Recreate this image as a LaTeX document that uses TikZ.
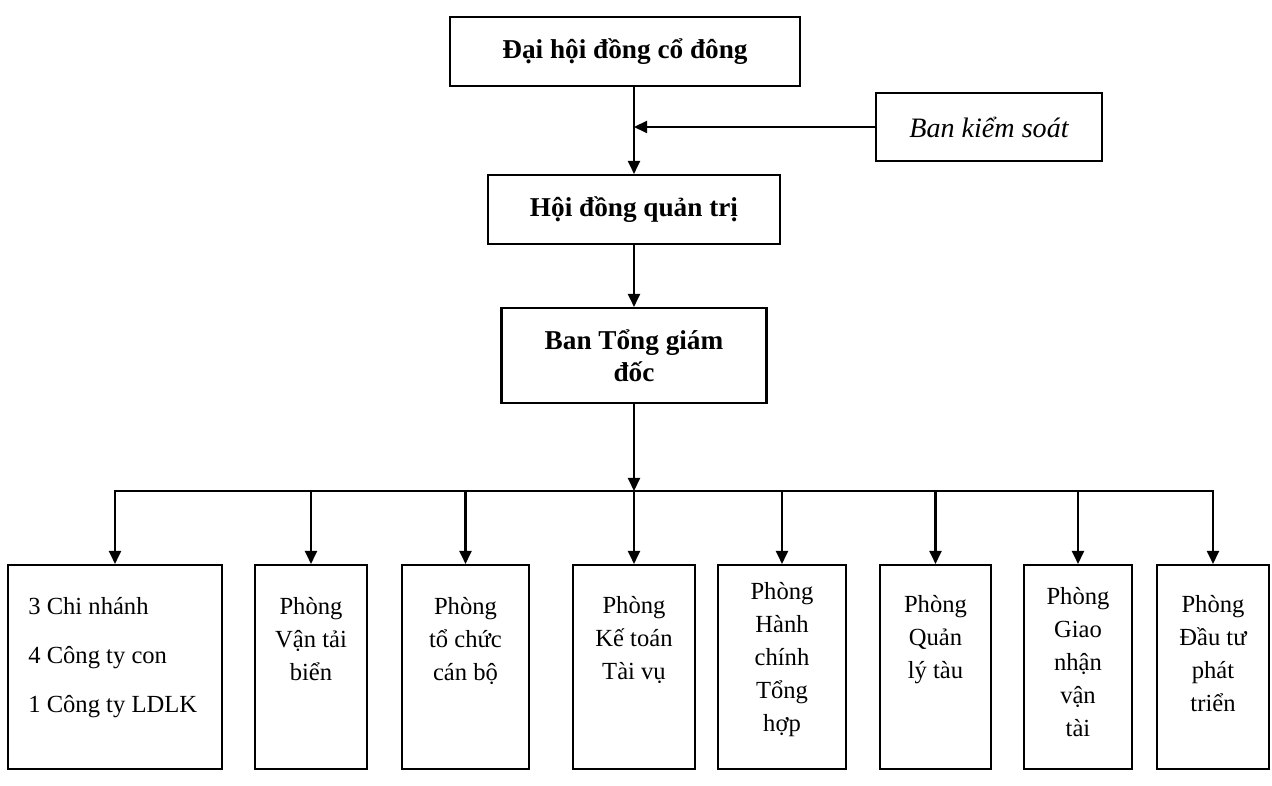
\documentclass[tikz,border=0pt]{standalone}
\usepackage{fontspec}
\setmainfont{Liberation Serif}
\usetikzlibrary{arrows.meta,positioning}

\begin{document}
\begin{tikzpicture}[x=0.02cm,y=-0.02cm,
		box/.style={draw,line width=1.2pt,inner sep=0pt,align=center},
		head/.style={box,font=\fontsize{15.5}{18}\selectfont\bfseries},
		unit/.style={draw,line width=1.2pt,inner sep=0pt,minimum height=4.08cm},
		unittext/.style={align=center,inner sep=0pt,font=\fontsize{14}{18.8}\selectfont},
		link/.style={line width=1.2pt,-{Triangle[length=0.26cm,width=0.24cm]}}]
		\useasboundingbox (0,0) rectangle (1272,786);
		% top of the chart
		\node[head,minimum width=7cm,minimum height=1.38cm] (dhd) at (625,51.5) {Đại hội đồng cổ đông};
		\node[box,font=\fontsize{16}{19}\selectfont\itshape,minimum width=4.52cm,minimum height=1.36cm] (bks) at (989,127) {Ban kiểm soát};
		\node[head,minimum width=5.84cm,minimum height=1.38cm] (hdqt) at (634,209.5) {Hội đồng quản trị};
		\node[head,minimum width=5.3cm,minimum height=1.9cm] (btgd) at (634,355.5) {Ban Tổng giám\\đốc};
		\coordinate (join) at (bks.west -| hdqt.north);
		\coordinate (bus) at (634,491);
		\draw[link] (dhd.south -| hdqt.north) -- (hdqt.north);
		\draw[link] (bks.west) -- (join);
		\draw[link] (hdqt.south) -- (btgd.north);
		\draw[link] (btgd.south) -- (bus);
		% units
		\node[unit,minimum width=4.28cm] (u1) at (115,667) {};
		\node[align=left,inner sep=0pt,font=\fontsize{14}{27.8}\selectfont,anchor=north west]
			(u1-t) at ([xshift=0.42cm,yshift=-0.66cm]u1.north west) {3 Chi nhánh\\4 Công ty con\\1 Công ty LDLK};
		\foreach \n/\x/\w/\d/\t in {u2/311/2.24/0.66/{Phòng\\Vận tải\\biển},
			u3/465.5/2.54/0.66/{Phòng\\tổ chức\\cán bộ},
			u4/634/2.44/0.64/{Phòng\\Kế toán\\Tài vụ},
			u5/782/2.56/0.36/{Phòng\\Hành\\chính\\Tổng\\hợp},
			u6/935.5/2.22/0.62/{Phòng\\Quản\\lý tàu},
			u7/1078/2.16/0.46/{Phòng\\Giao\\nhận\\vận\\tài},
			u8/1213/2.24/0.62/{Phòng\\Đầu tư\\phát\\triển}} {
			\node[unit,minimum width=\w cm] (\n) at (\x,667) {};
			\node[unittext,below=\d cm of \n.north] (\n-t) {\t};
		}
		% connectors
		\draw[line width=1.2pt,line cap=rect] (bus -| u1.north) -- (bus -| u8.north);
		\foreach \n in {u1,u2,u3,u4,u5,u6,u7,u8} {
			\draw[link] (bus -| \n.north) -- (\n.north);
		}
	\end{tikzpicture}
\end{document}
